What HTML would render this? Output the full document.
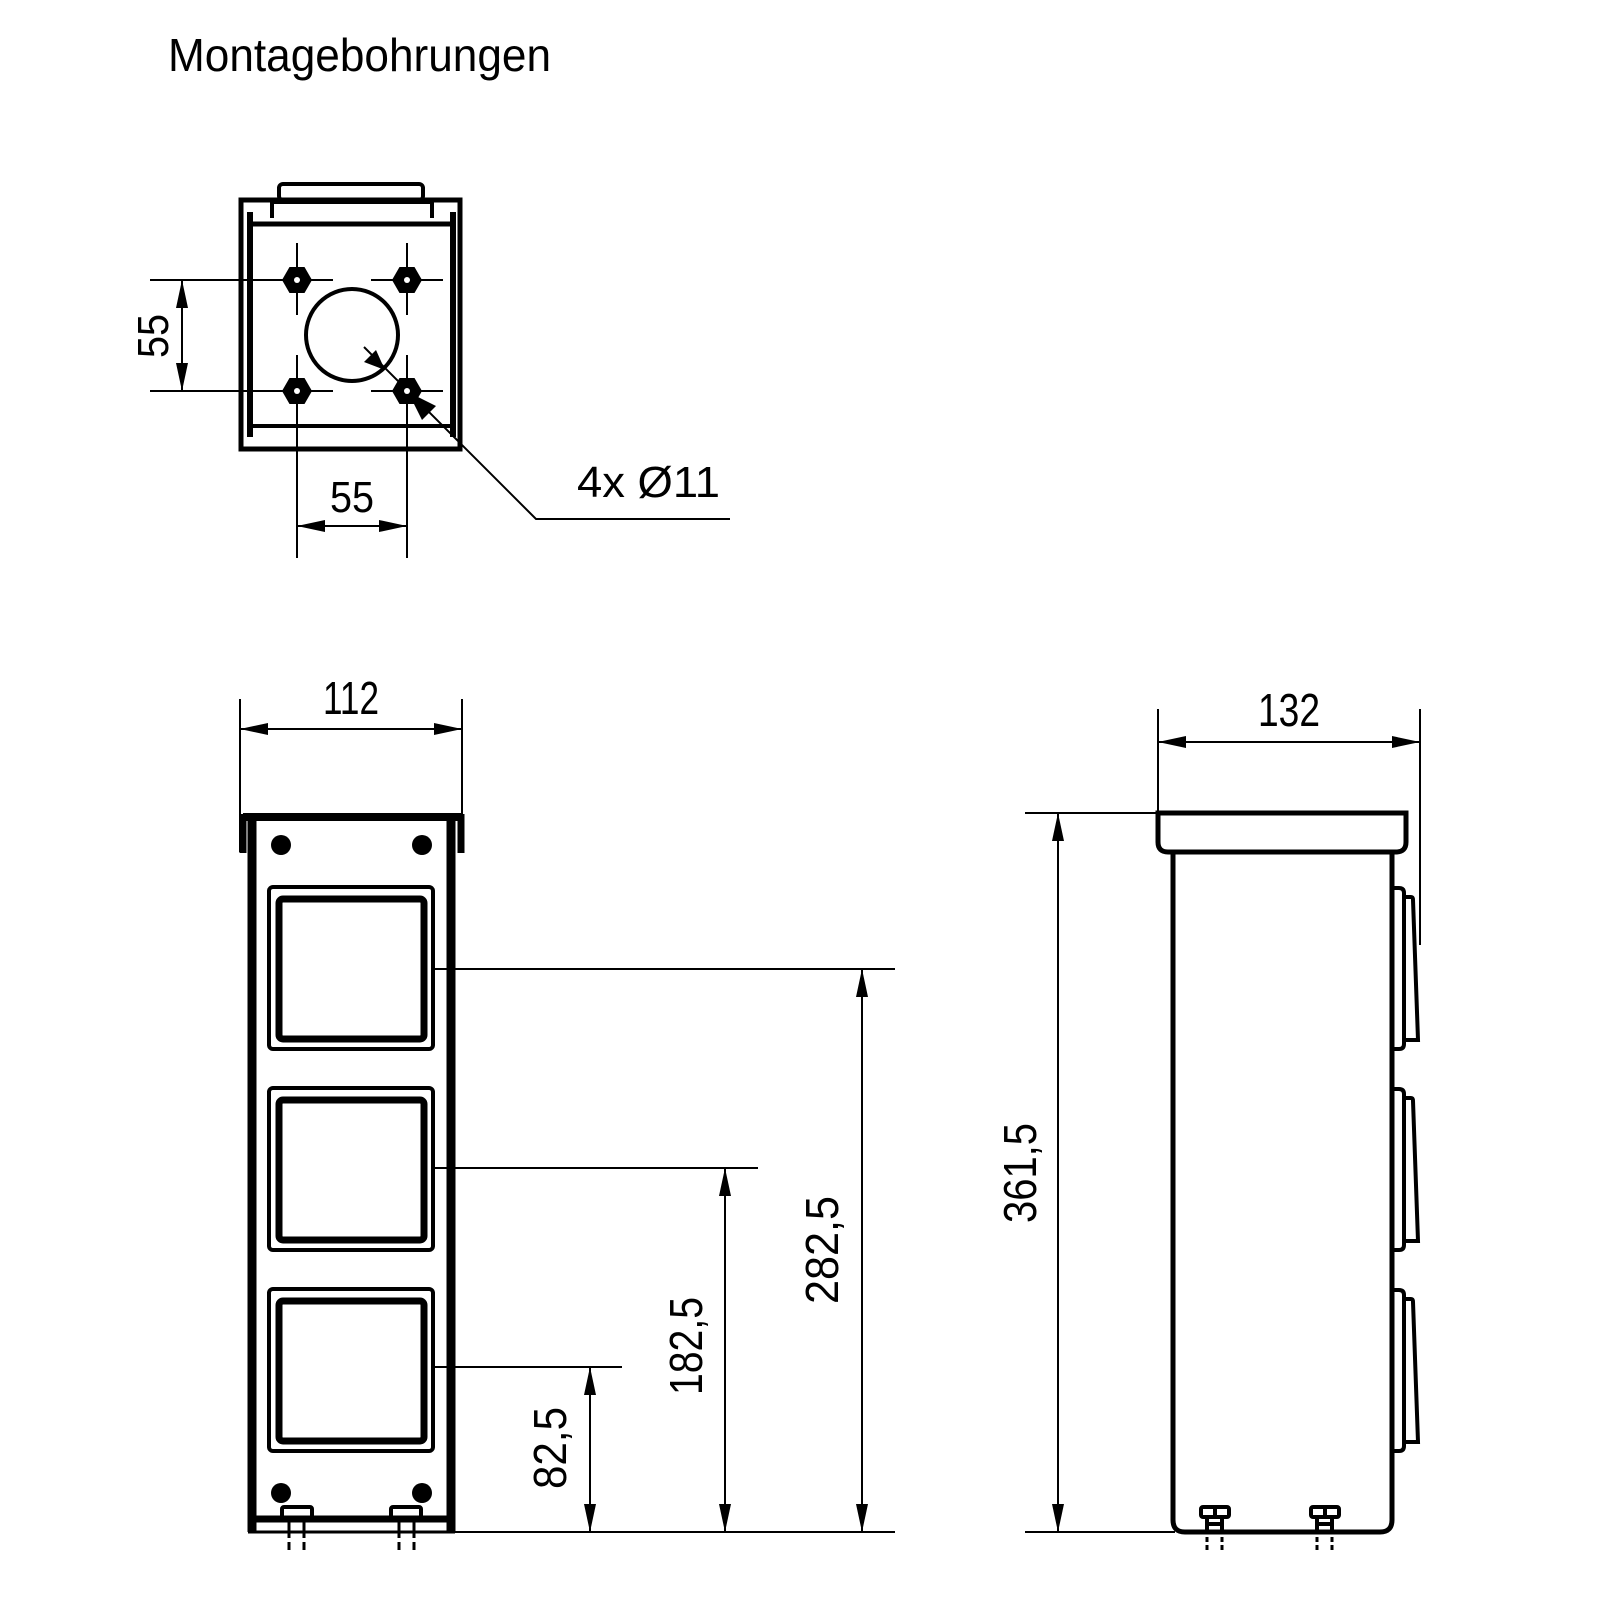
<!DOCTYPE html>
<html><head><meta charset="utf-8"><style>
html,body{margin:0;padding:0;background:#fff}
svg{display:block}
text{font-family:"Liberation Sans",sans-serif;fill:#000}
</style></head><body>
<svg width="1600" height="1600" viewBox="0 0 1600 1600" xmlns="http://www.w3.org/2000/svg">
<defs>
<marker id="a" viewBox="-28 -7 28 14" refX="0" refY="0" markerWidth="28" markerHeight="14" markerUnits="userSpaceOnUse" orient="auto-start-reverse">
<path d="M0,0 L-28,-6 L-28,6z" fill="#000"/>
</marker>
</defs>
<text x="168" y="71" font-size="46" textLength="383" lengthAdjust="spacingAndGlyphs">Montagebohrungen</text>

<!-- TOP VIEW -->
<g fill="none" stroke="#000">
<rect x="279" y="184" width="144" height="16" rx="4" stroke-width="4"/>
<path d="M272,218 V202 H432 V218" stroke-width="4"/>
<rect x="241" y="200" width="219" height="249" stroke-width="5"/>
<line x1="250" y1="212" x2="250" y2="437" stroke-width="6"/>
<line x1="453" y1="212" x2="453" y2="437" stroke-width="6"/>
<line x1="250" y1="224" x2="453" y2="224" stroke-width="5"/>
<line x1="250" y1="426" x2="453" y2="426" stroke-width="4"/>
<circle cx="352" cy="335" r="46" stroke-width="4"/>
<g stroke-width="2">
<line x1="150" y1="280" x2="333" y2="280"/><line x1="371" y1="280" x2="443" y2="280"/>
<line x1="150" y1="391" x2="333" y2="391"/><line x1="371" y1="391" x2="443" y2="391"/>
<line x1="297" y1="243" x2="297" y2="315"/><line x1="297" y1="355" x2="297" y2="558"/>
<line x1="407" y1="243" x2="407" y2="315"/><line x1="407" y1="355" x2="407" y2="558"/>
<line x1="182" y1="280" x2="182" y2="391" marker-start="url(#a)" marker-end="url(#a)"/>
<line x1="297" y1="526" x2="407" y2="526" marker-start="url(#a)" marker-end="url(#a)"/>
<polyline points="364,347 536,519 730,519"/>
</g>
</g>
<g fill="#000">
<polygon points="282,280 289.5,267 304.5,267 312,280 304.5,293 289.5,293"/>
<polygon points="392,280 399.5,267 414.5,267 422,280 414.5,293 399.5,293"/>
<polygon points="282,391 289.5,378 304.5,378 312,391 304.5,404 289.5,404"/>
<polygon points="392,391 399.5,378 414.5,378 422,391 414.5,404 399.5,404"/>
<path d="M385,370 L364,362 L376,350 z"/>
<path d="M408,392 L436,406 L422,420 z"/>
</g>
<g fill="#fff"><circle cx="297" cy="280" r="3"/><circle cx="407" cy="280" r="3"/><circle cx="297" cy="391" r="3"/><circle cx="407" cy="391" r="3"/></g>
<text transform="translate(168,336) rotate(-90)" font-size="44" text-anchor="middle" textLength="44" lengthAdjust="spacingAndGlyphs">55</text>
<text x="352" y="512" font-size="44" text-anchor="middle" textLength="44" lengthAdjust="spacingAndGlyphs">55</text>
<text x="577" y="497" font-size="44" textLength="143" lengthAdjust="spacingAndGlyphs">4x  Ø11</text>

<!-- FRONT VIEW -->
<g fill="none" stroke="#000">
<g stroke-width="2">
<line x1="240" y1="699" x2="240" y2="852"/><line x1="462" y1="699" x2="462" y2="852"/>
<line x1="240" y1="729" x2="462" y2="729" marker-start="url(#a)" marker-end="url(#a)"/>
<line x1="433" y1="969" x2="895" y2="969"/>
<line x1="433" y1="1168" x2="758" y2="1168"/>
<line x1="433" y1="1367" x2="622" y2="1367"/>
<line x1="452" y1="1532" x2="895" y2="1532"/>
<line x1="590" y1="1367" x2="590" y2="1532" marker-start="url(#a)" marker-end="url(#a)"/>
<line x1="725" y1="1168" x2="725" y2="1532" marker-start="url(#a)" marker-end="url(#a)"/>
<line x1="862" y1="969" x2="862" y2="1532" marker-start="url(#a)" marker-end="url(#a)"/>
</g>
<line x1="243" y1="817" x2="461" y2="817" stroke-width="8"/>
<line x1="243" y1="814" x2="243" y2="853" stroke-width="7"/>
<line x1="461" y1="814" x2="461" y2="853" stroke-width="7"/>
<line x1="252" y1="817" x2="252" y2="1532" stroke-width="9"/>
<line x1="451" y1="817" x2="451" y2="1532" stroke-width="9"/>
<line x1="248" y1="1519" x2="455" y2="1519" stroke-width="7"/>
<line x1="248" y1="1532" x2="455" y2="1532" stroke-width="3"/>
<g>
<rect x="269" y="887" width="164" height="162" rx="4" stroke-width="4"/>
<rect x="279" y="899" width="145" height="140" rx="4" stroke-width="7"/>
<rect x="269" y="1088" width="164" height="162" rx="4" stroke-width="4"/>
<rect x="279" y="1100" width="145" height="140" rx="4" stroke-width="7"/>
<rect x="269" y="1289" width="164" height="162" rx="4" stroke-width="4"/>
<rect x="279" y="1301" width="145" height="140" rx="4" stroke-width="7"/>
</g>
<g stroke-width="4">
<rect x="282" y="1507" width="30" height="12" rx="2"/>
<rect x="391" y="1507" width="30" height="12" rx="2"/>
</g>
<g stroke-width="3">
<line x1="289" y1="1519" x2="289" y2="1550"/><line x1="304" y1="1519" x2="304" y2="1550"/>
<line x1="399" y1="1519" x2="399" y2="1550"/><line x1="414" y1="1519" x2="414" y2="1550"/>
</g>
</g>
<g fill="#fff"><rect x="286" y="1538" width="22" height="4"/><rect x="396" y="1538" width="22" height="4"/></g>
<g fill="#000">
<circle cx="281" cy="845" r="10"/><circle cx="422" cy="845" r="10"/>
<circle cx="281" cy="1493" r="10"/><circle cx="422" cy="1493" r="10"/>
</g>
<text x="351" y="714" font-size="46" text-anchor="middle" textLength="56" lengthAdjust="spacingAndGlyphs">112</text>
<text transform="translate(566,1448) rotate(-90)" font-size="46" text-anchor="middle" textLength="82" lengthAdjust="spacingAndGlyphs">82,5</text>
<text transform="translate(702,1346) rotate(-90)" font-size="46" text-anchor="middle" textLength="98" lengthAdjust="spacingAndGlyphs">182,5</text>
<text transform="translate(838,1250) rotate(-90)" font-size="46" text-anchor="middle" textLength="108" lengthAdjust="spacingAndGlyphs">282,5</text>

<!-- SIDE VIEW -->
<g fill="none" stroke="#000">
<g stroke-width="2">
<line x1="1025" y1="813" x2="1158" y2="813"/>
<line x1="1025" y1="1532" x2="1175" y2="1532"/>
<line x1="1058" y1="813" x2="1058" y2="1532" marker-start="url(#a)" marker-end="url(#a)"/>
<line x1="1158" y1="709" x2="1158" y2="813"/>
<line x1="1420" y1="709" x2="1420" y2="945"/>
<line x1="1158" y1="742" x2="1420" y2="742" marker-start="url(#a)" marker-end="url(#a)"/>
</g>
<path d="M1158,813 H1406 V842 Q1406,852 1396,852 H1168 Q1158,852 1158,842 Z" stroke-width="5"/>
<path d="M1173,852 V1520 Q1173,1532 1185,1532 H1380 Q1392,1532 1392,1520 V852" stroke-width="5"/>
<g stroke-width="4">
<path d="M1392,888 H1399 Q1404,888 1404,893 V1044 Q1404,1049 1399,1049 H1392"/>
<path d="M1404,897 H1411 Q1413,897 1413,900 L1418,1040 H1404"/>
<path d="M1392,1089 H1399 Q1404,1089 1404,1094 V1245 Q1404,1250 1399,1250 H1392"/>
<path d="M1404,1098 H1411 Q1413,1098 1413,1101 L1418,1241 H1404"/>
<path d="M1392,1290 H1399 Q1404,1290 1404,1295 V1446 Q1404,1451 1399,1451 H1392"/>
<path d="M1404,1299 H1411 Q1413,1299 1413,1302 L1418,1442 H1404"/>
</g>
<g stroke-width="4">
<rect x="1201" y="1507" width="28" height="10" rx="2"/><line x1="1215" y1="1507" x2="1215" y2="1517"/>
<rect x="1311" y="1507" width="28" height="10" rx="2"/><line x1="1325" y1="1507" x2="1325" y2="1517"/>
<line x1="1207" y1="1517" x2="1207" y2="1530"/><line x1="1222" y1="1517" x2="1222" y2="1530"/>
<line x1="1317" y1="1517" x2="1317" y2="1530"/><line x1="1332" y1="1517" x2="1332" y2="1530"/>
<line x1="1205" y1="1524" x2="1224" y2="1524"/><line x1="1315" y1="1524" x2="1334" y2="1524"/>
</g>
<g stroke-width="3">
<line x1="1207" y1="1537" x2="1207" y2="1550"/><line x1="1222" y1="1537" x2="1222" y2="1550"/>
<line x1="1317" y1="1537" x2="1317" y2="1550"/><line x1="1332" y1="1537" x2="1332" y2="1550"/>
</g>
</g>
<g fill="#fff"><rect x="1204" y="1542" width="21" height="3"/><rect x="1314" y="1542" width="21" height="3"/></g>
<text x="1289" y="726" font-size="46" text-anchor="middle" textLength="62" lengthAdjust="spacingAndGlyphs">132</text>
<text transform="translate(1036,1173) rotate(-90)" font-size="46" text-anchor="middle" textLength="100" lengthAdjust="spacingAndGlyphs">361,5</text>
</svg>
</body></html>
